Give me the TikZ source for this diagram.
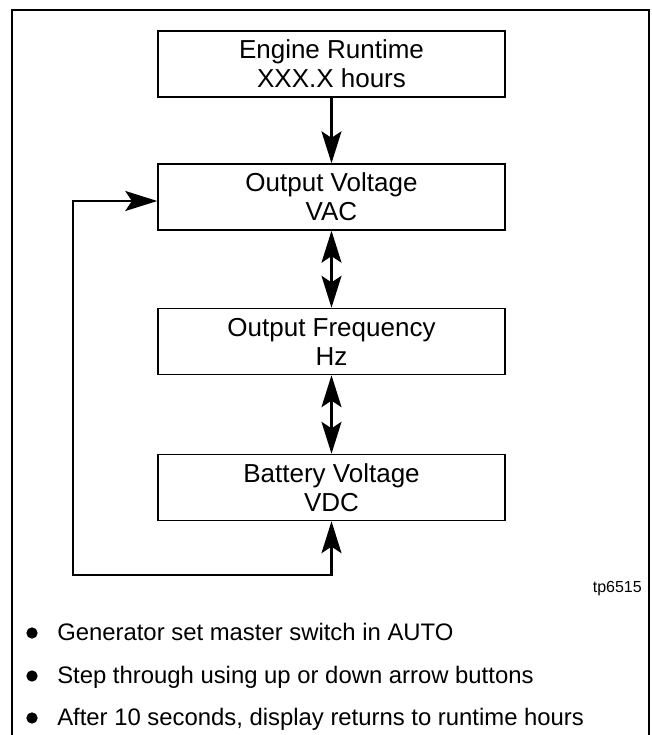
\documentclass[tikz,border=0pt]{standalone}
\usepackage{fontspec}
\setmainfont{Liberation Sans}
\usetikzlibrary{arrows.meta}
\begin{document}
\begin{tikzpicture}[x=0.75pt,y=-0.75pt,
  box/.style={draw, line width=1.1pt, minimum width=260.25pt, minimum height=49.5pt,
    inner sep=0pt, align=center, font=\fontsize{19.5}{21.75}\selectfont},
  conn/.style={line width=1.7pt, -{Stealth[length=24pt,width=15pt,inset=5pt]}},
  dconn/.style={line width=1.7pt, {Stealth[length=24pt,width=15pt,inset=5pt]}-{Stealth[length=24pt,width=15pt,inset=5pt]}},
  bul/.style={circle, fill, inner sep=0pt, minimum size=8.5pt},
  btext/.style={anchor=base west, inner sep=0pt, font=\fontsize{17.9}{20}\selectfont},
  frame/.style={line width=2.2pt}
]
\useasboundingbox (0,0) rectangle (652,735);
\coordinate (f1) at (12,740);
\coordinate (f2) at (12,10);
\coordinate (f3) at (649,10);
\coordinate (f4) at (649,740);
\draw[frame] (f1) -- (f2) -- (f3) -- (f4);

\node[box] (er) at (331.5,64) {Engine Runtime\\XXX.X hours};
\node[box] (ov) at (331.5,197) {Output Voltage\\VAC};
\node[box] (of) at (331.5,341.5) {Output Frequency\\Hz};
\node[box] (bv) at (331.5,487.5) {Battery Voltage\\VDC};

\draw[conn] (er) -- (ov);
\draw[dconn] (ov) -- (of);
\draw[dconn] (of) -- (bv);

\coordinate (l1) at (331.5,575);
\coordinate (l2) at (73,575);
\coordinate (l3) at (73,201);
\coordinate (l4) at (ov.west |- l3);
\draw[dconn] (bv.south) -- (l1) -- (l2) -- (l3) -- (l4);

\node[anchor=base east, inner sep=0pt, font=\fontsize{12}{14}\selectfont] (tp) at (642,592) {tp6515};

\node[bul] (b1) at (32,633) {};
\node[btext] (t1) at (57,640) {Generator set master switch in AUTO};
\node[bul] (b2) at (32,676) {};
\node[btext] (t2) at (57,683) {Step through using up or down arrow buttons};
\node[bul] (b3) at (32,718) {};
\node[btext] (t3) at (57,725) {After 10 seconds, display returns to runtime hours};
\end{tikzpicture}
\end{document}
